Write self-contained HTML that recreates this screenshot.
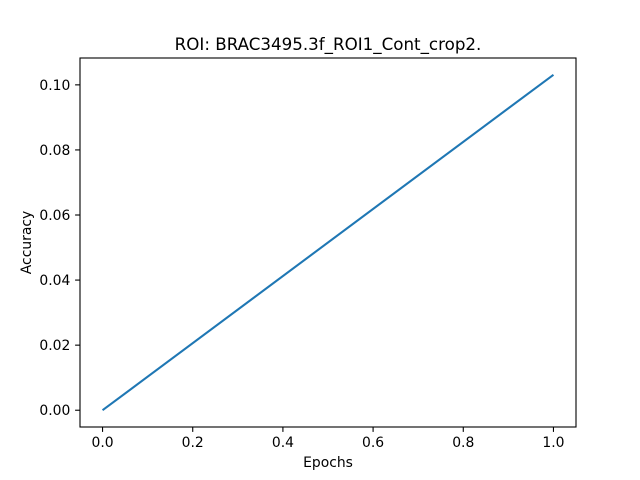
<!DOCTYPE html>
<html>
<head>
<meta charset="utf-8">
<style>
  body { margin: 0; background: #fff; }
  svg { display: block; font-family: "DejaVu Sans", "Liberation Sans", sans-serif; }
</style>
</head>
<body>
<svg id="chart" width="640" height="480" viewBox="0 0 640 480">
  <rect x="0" y="0" width="640" height="480" fill="#fff"/>
  <text x="328" y="50" text-anchor="middle" font-size="16.7" fill="#000">ROI: BRAC3495.3f_ROI1_Cont_crop2.</text>
  <g id="xticks"></g>
  <g id="yticks"></g>
  <g id="plot"></g>
  <rect x="80" y="58" width="496" height="369" fill="none" stroke="#000" stroke-width="1.1"/>
  <text x="328" y="467" text-anchor="middle" font-size="13.9" fill="#000">Epochs</text>
  <text x="31" y="242.5" text-anchor="middle" font-size="13.9" fill="#000" transform="rotate(-90 31 242.5)">Accuracy</text>
</svg>
<script>
const epochs = [0, 1];
const accuracy = [0, 0.1031];
const xTickLabels = ["0.0", "0.2", "0.4", "0.6", "0.8", "1.0"];
const yTickLabels = ["0.00", "0.02", "0.04", "0.06", "0.08", "0.10"];

const NS = "http://www.w3.org/2000/svg";
const L = 80, R = 576, T = 58, B = 427;
const xMin = Math.min(...epochs), xMax = Math.max(...epochs);
const yMin = Math.min(...accuracy), yMax = Math.max(...accuracy);
const xPad = (xMax - xMin) * 0.05, yPad = (yMax - yMin) * 0.05;
function xs(v) { return L + (v - (xMin - xPad)) / ((xMax + xPad) - (xMin - xPad)) * (R - L); }
function ys(v) { return B - (v - (yMin - yPad)) / ((yMax + yPad) - (yMin - yPad)) * (B - T); }
function mk(tag, attrs, parent) {
  const e = document.createElementNS(NS, tag);
  for (const k in attrs) e.setAttribute(k, attrs[k]);
  parent.appendChild(e);
  return e;
}
const gx = document.getElementById("xticks");
xTickLabels.forEach(lbl => {
  const x = xs(parseFloat(lbl));
  const t = mk("line", {x1: x, x2: x, y1: B, y2: B + 4.9, stroke: "#000", "stroke-width": 1.1}, gx);
  
  
  const tx = mk("text", {x: x, y: B + 20, "text-anchor": "middle", "font-size": 13.9, fill: "#000"}, gx);
  tx.textContent = lbl;
  
  
});
const gy = document.getElementById("yticks");
yTickLabels.forEach(lbl => {
  const y = ys(parseFloat(lbl));
  const t = mk("line", {x1: L - 4.9, x2: L, y1: y, y2: y, stroke: "#000", "stroke-width": 1.1}, gy);
  
  
  const tx = mk("text", {x: L - 9.7, y: y + 5, "text-anchor": "end", "font-size": 13.9, fill: "#000"}, gy);
  tx.textContent = lbl;
  
  
});
const gp = document.getElementById("plot");
const pts = epochs.map((e, i) => xs(e) + "," + ys(accuracy[i])).join(" ");
const line = mk("polyline", {points: pts, fill: "none", stroke: "#1f77b4", "stroke-width": 2.08}, gp);


</script>
</body>
</html>
